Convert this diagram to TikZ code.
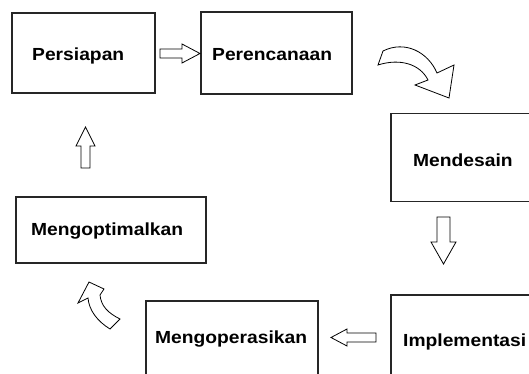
\documentclass[tikz,border=0pt]{standalone}
\usepackage{fontspec}
\setmainfont{Liberation Sans}
\usepackage{graphicx}
\tikzset{
  box/.style={draw=black!85, line width=1.2pt, rectangle, inner sep=0pt},
  lbl/.style={anchor=base west, inner sep=0pt, font=\fontsize{17.5}{20}\selectfont\bfseries},
  barrow/.style={draw=black, line width=0.8pt, fill=white, line join=miter}
}
\newcommand{\wlbl}[1]{\scalebox{1.1}[1]{#1}}
\begin{document}
\begin{tikzpicture}[x=1pt,y=-1pt]
\useasboundingbox (0,0) rectangle (529,374);
\clip (0,0) rectangle (529,374);
\fill[white] (0,0) rectangle (529,374);
% boxes
\node[box, minimum width=143pt, minimum height=80pt] (persiapan) at (83.5,53) {};
\node[box, minimum width=151pt, minimum height=82pt] (perencanaan) at (276.5,53) {};
\node[box, minimum width=200pt, minimum height=88pt] (mendesain) at (491,157.5) {};
\node[box, minimum width=200pt, minimum height=120pt] (implementasi) at (491,355) {};
\node[box, minimum width=172pt, minimum height=120pt] (mengoperasikan) at (232,361) {};
\node[box, minimum width=190pt, minimum height=66pt] (mengoptimalkan) at (111,230) {};
% labels
\node[lbl] (tpersiapan) at (32,61) {\wlbl{Persiapan}};
\node[lbl] (tperencanaan) at (212,61) {\wlbl{Perencanaan}};
\node[lbl] (tmendesain) at (413,166) {\wlbl{Mendesain}};
\node[lbl] (timplementasi) at (403,346) {\wlbl{Implementasi}};
\node[lbl] (tmengoperasikan) at (155,343) {\wlbl{Mengoperasikan}};
\node[lbl] (tmengoptimalkan) at (31,235) {\wlbl{Mengoptimalkan}};
% right block arrow Persiapan -> Perencanaan
\draw[barrow] (160,49) -- (182,49) -- (182,44) -- (200,53.5) -- (182,63) -- (182,58) -- (160,58) -- cycle;
% curved arrow Perencanaan -> Mendesain
\draw[barrow] (383,51) .. controls (405,40) and (428,52) .. (437,73) -- (454,65) -- (449,98) -- (415,85) -- (428,80)
  .. controls (420,64) and (400,58) .. (378,65) -- cycle;
% down arrow Mendesain -> Implementasi
\draw[barrow] (437,217) -- (450,217) -- (450,242) -- (456,242) -- (443.5,264) -- (431,242) -- (437,242) -- cycle;
% left arrow Implementasi -> Mengoperasikan
\draw[barrow] (376,333) -- (347,333) -- (347,329) -- (331,337.5) -- (347,346) -- (347,342) -- (376,342) -- cycle;
% curved arrow Mengoperasikan -> Mengoptimalkan
\draw[barrow] (89,282) -- (104,289) -- (100,295) .. controls (101,306) and (108,313) .. (120,319) -- (110,329)
  .. controls (97,321) and (89,310) .. (88,298) -- (78,303) -- cycle;
% up arrow Mengoptimalkan -> Persiapan
\draw[barrow] (81,168) -- (90,168) -- (90,146) -- (95,146) -- (85.5,127) -- (76,146) -- (81,146) -- cycle;
\end{tikzpicture}
\end{document}
